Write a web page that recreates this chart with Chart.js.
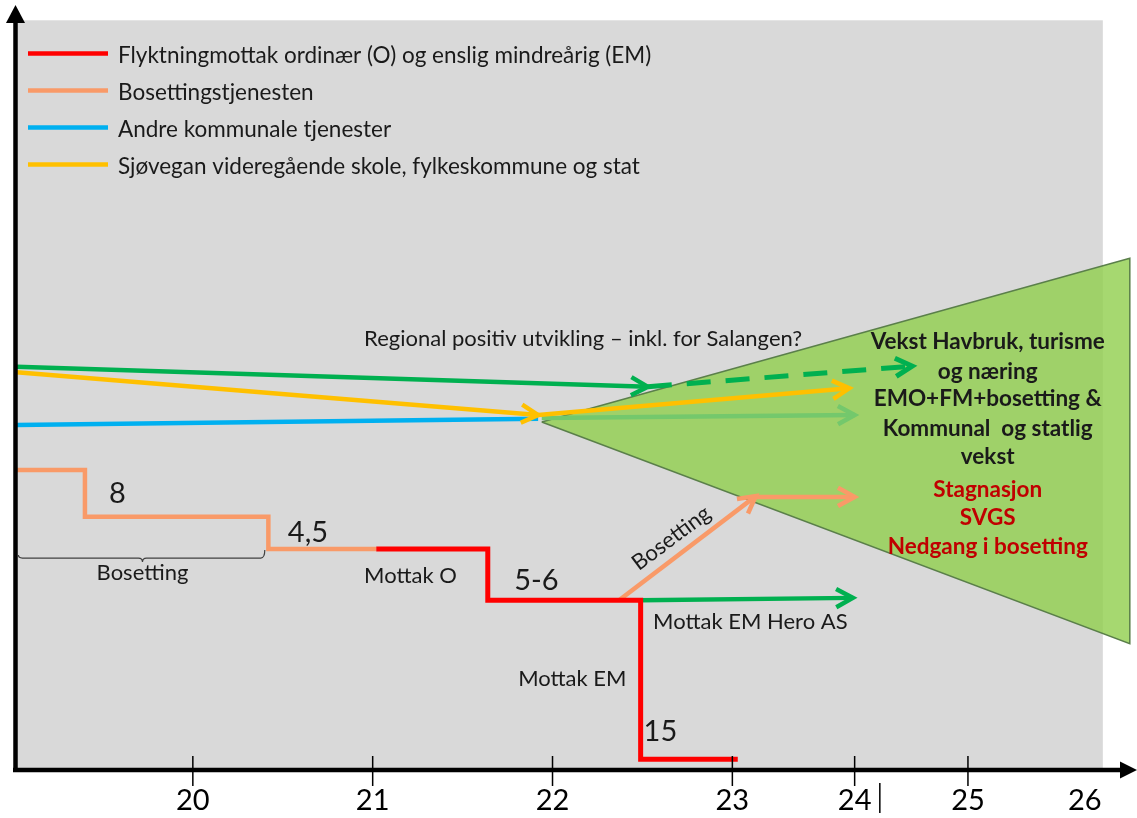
<!DOCTYPE html>
<html>
<head>
<meta charset="utf-8">
<script src="https://cdn.jsdelivr.net/npm/chart.js@4.4.1/dist/chart.umd.min.js"></script>
<style>
html, body { margin: 0; padding: 0; background: #fff; }
</style>
</head>
<body>
<canvas id="myChart" width="1137" height="818"></canvas>
<script>
// tidslinje: posisjon for aksetikettene (skalaen er komprimert etter 23)
var tickPos = [20, 21, 22, 23, 23.68, 24.31, 24.96];
var tickLabels = ['20', '21', '22', '23', '24', '25', '26'];

var seriesNames = ['Flyktningmottak ordinær (O) og enslig mindreårig (EM)', 'Bosettingstjenesten',
                   'Andre kommunale tjenester', 'Sjøvegan videregående skole, fylkeskommune og stat'];
var seriesColors = ['#FF0000', '#F99A68', '#00B0F0', '#FFC000'];
var green = '#00B050';
var lightGreen = '#74C86C';

// Flyktningmottak (rød)
var mottakX = [21.02, 21.64, 21.64, 22.49, 22.49, 23.03];
var mottakY = [28.9, 28.9, 22.2, 22.2, 1.4, 1.4];
// Bosettingstjenesten (oransje)
var bosettingX = [19.02, 19.40, 19.40, 20.42, 20.42, 21.02];
var bosettingY = [39.2, 39.2, 33.1, 33.1, 28.9, 28.9];
var bosettingPilX = [22.37, 23.13];
var bosettingPilY = [22.2, 35.8];
var bosettingFramX = [23.13, 23.68];
var bosettingFramY = [35.7, 35.7];
// Andre kommunale tjenester (blå) + videre vekst
var kommunalX = [19.02, 21.92];
var kommunalY = [45.1, 45.9];
var kommunalFramX = [21.94, 23.68];
var kommunalFramY = [46.0, 46.4];
// Sjøvegan vgs (gul)
var skoleX = [19.02, 21.92];
var skoleY = [52.0, 46.4];
var skoleFramX = [21.92, 23.65];
var skoleFramY = [46.4, 49.9];
// Regional utvikling (grønn)
var regionalX = [19.02, 22.53];
var regionalY = [52.7, 50.1];
var regionalFramX = [22.53, 24.0];
var regionalFramY = [50.1, 52.8];
// Mottak EM Hero AS
var heroX = [22.49, 23.67];
var heroY = [22.2, 22.5];
// scenariotrekant
var trekantX = [21.94, 25.21, 25.21, 21.94];
var trekantY = [45.5, 66.9, 16.5, 45.5];

function pts(xs, ys) {
    return xs.map(function(x, i){ return {x: x, y: ys[i]}; });
}

function line(data, color, extra) {
    var ds = {data: data, borderColor: color, borderWidth: 4.5, pointRadius: 0, fill: false, tension: 0, order: 1};
    for (var k in extra) ds[k] = extra[k];
    return ds;
}

var annotations = [
    {text: '8', x: 19.58, y: 36.1, size: 29},
    {text: '4,5', x: 20.64, y: 31.0, size: 29},
    {text: '5-6', x: 21.91, y: 24.7, size: 29},
    {text: '15', x: 22.60, y: 5.0, size: 29},
    {text: 'Bosetting', x: 19.72, y: 25.75, size: 22},
    {text: 'Mottak O', x: 21.21, y: 25.4, size: 22},
    {text: 'Mottak EM', x: 22.11, y: 11.9, size: 22},
    {text: 'Mottak EM Hero AS', x: 23.10, y: 19.35, size: 22},
    {text: 'Bosetting', x: 22.66, y: 30.3, size: 22, rot: -36.7},
    {text: 'Regional positiv utvikling – inkl. for Salangen?', x: 22.17, y: 56.3, size: 22},
    {text: 'Vekst Havbruk, turisme', x: 24.42, y: 55.95, size: 22.5, bold: true},
    {text: 'og næring', x: 24.42, y: 52.0, size: 22.5, bold: true},
    {text: 'EMO+FM+bosetting &', x: 24.42, y: 48.5, size: 22.5, bold: true},
    {text: 'Kommunal  og statlig', x: 24.42, y: 44.6, size: 22.5, bold: true},
    {text: 'vekst', x: 24.42, y: 40.9, size: 22.5, bold: true},
    {text: 'Stagnasjon', x: 24.42, y: 36.6, size: 22.5, bold: true, color: '#C00000'},
    {text: 'SVGS', x: 24.42, y: 32.95, size: 22.5, bold: true, color: '#C00000'},
    {text: 'Nedgang i bosetting', x: 24.42, y: 29.15, size: 22.5, bold: true, color: '#C00000'}
];

var diagramPlugin = {
    id: 'diagram',
    beforeDatasetsDraw: function(chart){
        var c = chart.ctx, xs = chart.scales.x, ys = chart.scales.y;
        var l = xs.getPixelForValue(19.01), r = xs.getPixelForValue(25.06);
        var t = ys.getPixelForValue(98), b = ys.getPixelForValue(0);
        c.save();
        c.fillStyle = '#D9D9D9';
        c.fillRect(l, t, r - l, b - t);
        c.restore();
    },
    afterDatasetsDraw: function(chart){
        var c = chart.ctx, xs = chart.scales.x, ys = chart.scales.y, area = chart.chartArea;
        c.save();
        // pilspisser
        chart.data.datasets.forEach(function(ds, i){
            if (!ds.arrow) return;
            var p = chart.getDatasetMeta(i).data;
            var a = p[p.length - 1], b = p[p.length - 2];
            var ang = Math.atan2(a.y - b.y, a.x - b.x);
            c.setLineDash([]);
            c.strokeStyle = ds.borderColor;
            c.lineWidth = ds.borderWidth;
            c.lineCap = 'butt';
            c.lineJoin = 'miter';
            c.beginPath();
            c.moveTo(a.x - 19 * Math.cos(ang - 0.5), a.y - 19 * Math.sin(ang - 0.5));
            c.lineTo(a.x, a.y);
            c.lineTo(a.x - 19 * Math.cos(ang + 0.5), a.y - 19 * Math.sin(ang + 0.5));
            c.stroke();
        });

        // akser
        var y0 = ys.getPixelForValue(0), xl = area.left + 2.5;
        c.strokeStyle = '#000';
        c.fillStyle = '#000';
        c.lineWidth = 4.5;
        c.beginPath();
        c.moveTo(xl, y0 + 2);
        c.lineTo(xl, area.top + 16);
        c.moveTo(area.left, y0);
        c.lineTo(area.right - 14, y0);
        c.stroke();
        c.beginPath();
        c.moveTo(xl, area.top);
        c.lineTo(xl - 9.5, area.top + 18);
        c.lineTo(xl + 9.5, area.top + 18);
        c.closePath();
        c.fill();
        c.beginPath();
        c.moveTo(area.right, y0);
        c.lineTo(area.right - 17, y0 - 8.5);
        c.lineTo(area.right - 17, y0 + 8.5);
        c.closePath();
        c.fill();
        c.lineWidth = 1.5;
        c.beginPath();
        for (var k = 0; k < tickPos.length - 1; k++) {
            var tx = xs.getPixelForValue(tickPos[k]);
            c.moveTo(tx, y0 - 14);
            c.lineTo(tx, y0 + 16);
        }
        var bx = xs.getPixelForValue(23.82);
        c.moveTo(bx, y0 + 13);
        c.lineTo(bx, y0 + 43);
        c.stroke();

        // klamme under "Bosetting"
        var k1 = xs.getPixelForValue(19.03), k2 = xs.getPixelForValue(20.40), km = xs.getPixelForValue(19.72);
        var ky = ys.getPixelForValue(27.7);
        c.strokeStyle = '#404040';
        c.lineWidth = 1.2;
        c.beginPath();
        c.moveTo(k1, ky - 3);
        c.quadraticCurveTo(k1, ky, k1 + 4, ky);
        c.lineTo(km - 4, ky);
        c.quadraticCurveTo(km, ky, km, ky + 4);
        c.quadraticCurveTo(km, ky, km + 4, ky);
        c.lineTo(k2 - 4, ky);
        c.quadraticCurveTo(k2, ky, k2, ky - 8);
        c.stroke();

        // tegnforklaring
        c.font = '22.5px Lato';
        c.textBaseline = 'middle';
        c.textAlign = 'left';
        seriesNames.forEach(function(name, i){
            var ly = area.top + 48.5 + i * 37;
            c.strokeStyle = seriesColors[i];
            c.lineWidth = 4.5;
            c.beginPath();
            c.moveTo(area.left + 15, ly);
            c.lineTo(area.left + 95, ly);
            c.stroke();
            c.fillStyle = '#1a1a1a';
            c.fillText(name, area.left + 105, ly + 2);
        });

        // tekster
        c.textAlign = 'center';
        annotations.forEach(function(a){
            c.save();
            c.font = (a.bold ? 'bold ' : '') + a.size + 'px Lato';
            c.fillStyle = a.color || '#1a1a1a';
            c.translate(xs.getPixelForValue(a.x), ys.getPixelForValue(a.y));
            if (a.rot) c.rotate(a.rot * Math.PI / 180);
            c.fillText(a.text, 0, 0);
            c.restore();
        });
        c.restore();
    }
};

var ctx = document.getElementById('myChart');
var myChart = new Chart(ctx, {
    type: 'line',
    data: {
        datasets: [
            line(pts(mottakX, mottakY), seriesColors[0], {borderWidth: 5, order: 0}),
            line(pts(bosettingX, bosettingY), seriesColors[1]),
            line(pts(bosettingPilX, bosettingPilY), seriesColors[1], {arrow: true}),
            line(pts(bosettingFramX, bosettingFramY), seriesColors[1], {arrow: true}),
            line(pts(kommunalX, kommunalY), seriesColors[2], {order: 3}),
            line(pts(kommunalFramX, kommunalFramY), lightGreen, {arrow: true, order: 3}),
            line(pts(skoleX, skoleY), seriesColors[3], {arrow: true, order: 2}),
            line(pts(skoleFramX, skoleFramY), seriesColors[3], {arrow: true, order: 2}),
            line(pts(regionalX, regionalY), green, {arrow: true}),
            line(pts(regionalFramX, regionalFramY), green, {arrow: true, borderDash: [24, 15], borderWidth: 5}),
            line(pts(heroX, heroY), green, {arrow: true}),
            line(pts(trekantX, trekantY), '#5A7F4A', {borderWidth: 1.5, fill: 'shape',
                 backgroundColor: 'rgba(146, 208, 80, 0.82)', order: 10})
        ]
    },
    options: {
        responsive: false,
        animation: false,
        layout: { padding: { left: 13, right: 0, top: 5, bottom: 0 } },
        plugins: { legend: { display: false }, tooltip: { enabled: false } },
        scales: {
            x: {
                type: 'linear',
                min: 19,
                max: 25.25,
                grid: { display: false, drawTicks: false },
                border: { display: false },
                afterBuildTicks: function(axis){
                    axis.ticks = tickPos.map(function(v){ return {value: v}; });
                },
                afterFit: function(axis){ axis.height = 48; },
                ticks: {
                    autoSkip: false,
                    maxRotation: 0,
                    padding: 13,
                    color: '#000',
                    font: { family: 'Lato', size: 29 },
                    callback: function(val, index){ return tickLabels[index]; }
                }
            },
            y: { display: false, min: 0, max: 100 }
        }
    },
    plugins: [diagramPlugin]
});
</script>
</body>
</html>
